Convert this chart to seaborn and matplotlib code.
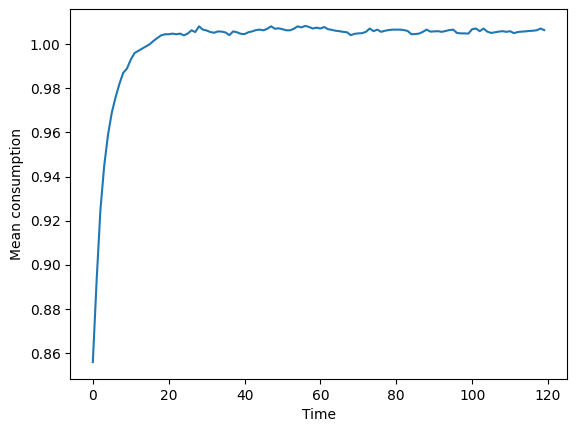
import matplotlib
matplotlib.use("Agg")
import matplotlib.pyplot as plt
import numpy as np
import pandas as pd
import seaborn as sns

# mean consumption per time step
time = list(range(120))
consumption = [
    0.856, 0.893, 0.925, 0.945, 0.959, 0.969, 0.976, 0.982, 0.987, 0.989,
    0.993, 0.996, 0.997, 0.998, 0.999, 1.0000, 1.0015, 1.0028, 1.0040, 1.0045,
    1.0045, 1.0048, 1.0045, 1.0048, 1.0040, 1.0048, 1.0063, 1.0055, 1.0081, 1.0066,
    1.0062, 1.0055, 1.0052, 1.0058, 1.0057, 1.0053, 1.0041, 1.0058, 1.0054, 1.0047,
    1.0046, 1.0054, 1.0058, 1.0064, 1.0066, 1.0063, 1.0070, 1.0081, 1.0070, 1.0072,
    1.0068, 1.0063, 1.0063, 1.0070, 1.0081, 1.0076, 1.0083, 1.0078, 1.0071, 1.0075,
    1.0071, 1.0078, 1.0068, 1.0065, 1.0061, 1.0059, 1.0056, 1.0054, 1.0041, 1.0047,
    1.0049, 1.0050, 1.0056, 1.0071, 1.0059, 1.0066, 1.0056, 1.0061, 1.0064, 1.0066,
    1.0066, 1.0066, 1.0064, 1.0060, 1.0045, 1.0046, 1.0048, 1.0056, 1.0066, 1.0057,
    1.0058, 1.0059, 1.0056, 1.0060, 1.0064, 1.0066, 1.0051, 1.0049, 1.0049, 1.0048,
    1.0068, 1.0071, 1.0059, 1.0071, 1.0057, 1.0051, 1.0054, 1.0057, 1.0059, 1.0056,
    1.0059, 1.0050, 1.0055, 1.0057, 1.0058, 1.0060, 1.0061, 1.0063, 1.0071, 1.0064,
]

df = pd.DataFrame({"Time": time, "Mean consumption": consumption})

fig, ax = plt.subplots(figsize=(5.76, 4.32), dpi=100)
fig.subplots_adjust(left=0.122, right=0.984, top=0.979, bottom=0.123)
sns.lineplot(data=df, x="Time", y="Mean consumption", ax=ax)
ax.set_xlabel("Time")
ax.set_ylabel("Mean consumption")
fig.savefig("out.png", dpi=100)
